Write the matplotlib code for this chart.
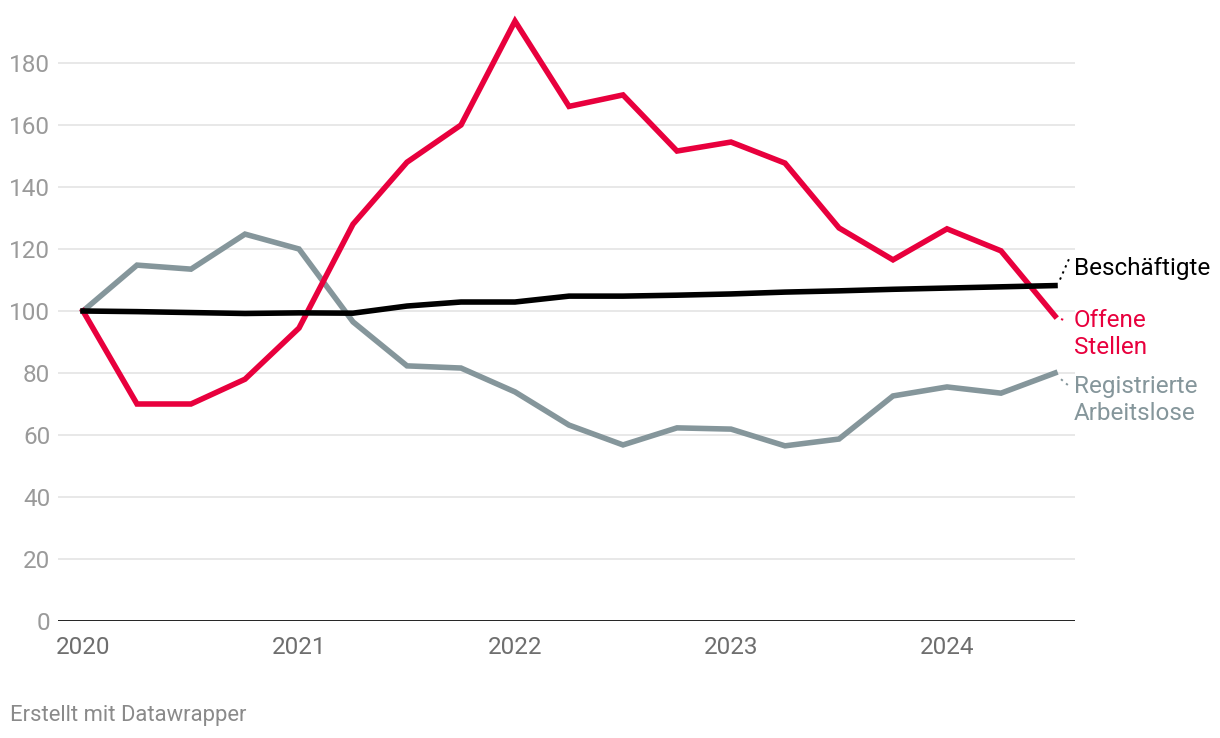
import matplotlib
matplotlib.use("Agg")
import matplotlib.pyplot as plt
import numpy as np

plt.rcParams['font.family'] = ['Roboto', 'DejaVu Sans']

# quarterly dates 2020 Q1 .. 2024 Q3
quarters = np.arange(19) / 4.0 + 2020
offene_stellen = [100, 70, 70, 78, 94.5, 128, 148, 160, 193.5, 166, 169.7, 151.6, 154.5,
                  147.7, 126.8, 116.5, 126.5, 119.4, 98.4]
arbeitslose = [100, 114.8, 113.5, 124.8, 120, 96.5, 82.3, 81.6, 73.9, 63.2, 56.8, 62.3,
               61.9, 56.5, 58.7, 72.6, 75.5, 73.5, 80]
beschaeftigte = [100, 99.8, 99.5, 99.2, 99.4, 99.3, 101.6, 102.9, 102.9, 104.8, 104.8,
                 105.1, 105.5, 106.1, 106.5, 107.0, 107.4, 107.8, 108.2]
y_ticks = [0, 20, 40, 60, 80, 100, 120, 140, 160, 180]
x_ticks = [2020, 2021, 2022, 2023, 2024]

RED = '#e8003d'
GRAY = '#85969b'
BLACK = '#000000'

fig = plt.figure(figsize=(12.2, 7.38), dpi=100)
ax = fig.add_axes([58/1220, 1-621/738, (1075-58)/1220, (621-10)/738])

ax.set_xlim(2020 - 25/216, 2020 + 992/216)
ax.set_ylim(0, 611/3.1)

for y in y_ticks[1:]:
    ax.axhline(y, color='#e2e2e2', lw=1.1, zorder=1)
ax.axhline(0, color='#111111', lw=1.3, zorder=2)

ax.plot(quarters, arbeitslose, color=GRAY, lw=4.0, solid_joinstyle='miter', zorder=3)
ax.plot(quarters, offene_stellen, color=RED, lw=4.0, solid_joinstyle='miter', zorder=4)
ax.plot(quarters, beschaeftigte, color=BLACK, lw=4.0, solid_joinstyle='miter', zorder=5)

for s in ax.spines.values():
    s.set_visible(False)
ax.set_yticks(y_ticks)
ax.set_yticklabels([str(v) for v in y_ticks])
ax.set_xticks(x_ticks)
ax.set_xticklabels([str(v) for v in x_ticks])
ax.tick_params(axis='y', length=0, pad=5.5, labelsize=17.5, labelcolor='#9a9a9a')
ax.tick_params(axis='x', length=0, pad=11, labelsize=17.5, labelcolor='#6e6e6e')

# end labels with dotted connectors
lx = quarters[-1]
ppx = 1/216
ppy = 1/3.1
FS = 17.5
dots = (0, (1.2, 2.2))

ax.plot([lx + 5*ppx, lx + 14*ppx], [beschaeftigte[-1] + 2*ppy*3, (621-259)*ppy], color=BLACK,
        lw=1.4, ls=dots, clip_on=False, zorder=6)
ax.text(lx + 19*ppx, (621-268)*ppy, 'Beschäftigte', color=BLACK, fontsize=FS,
        ha='left', va='center', clip_on=False)
ax.plot([lx + 6*ppx, lx + 12*ppx], [offene_stellen[-1] - 1, (621-321)*ppy], color=RED,
        lw=1.4, ls=dots, clip_on=False, zorder=6)
ax.text(lx + 19*ppx, (621-334)*ppy, 'Offene\nStellen', color=RED, fontsize=FS,
        ha='left', va='center', clip_on=False, linespacing=1.25)
ax.plot([lx + 6*ppx, lx + 14*ppx], [arbeitslose[-1] - 2, (621-386)*ppy], color=GRAY,
        lw=1.4, ls=dots, clip_on=False, zorder=6)
ax.text(lx + 19*ppx, (621-400)*ppy, 'Registrierte\nArbeitslose', color=GRAY, fontsize=FS,
        ha='left', va='center', clip_on=False, linespacing=1.25)

fig.text(10/1220, 1-716/738, 'Erstellt mit Datawrapper', color='#8a8a8a', fontsize=15.8,
         ha='left', va='center')

fig.savefig('out.png', dpi=100)
